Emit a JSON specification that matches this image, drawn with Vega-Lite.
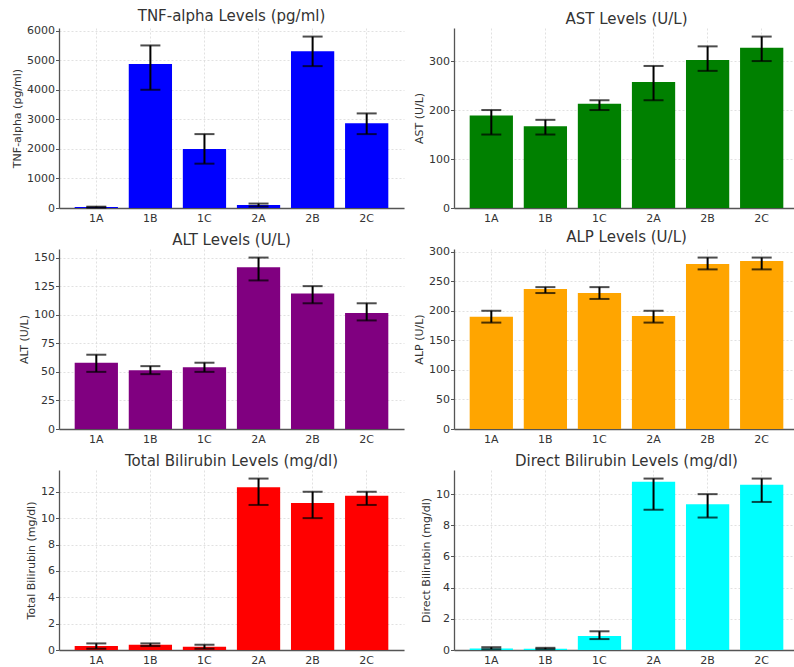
{
  "$schema": "https://vega.github.io/schema/vega-lite/v6.json",
  "padding": {"left": 11, "top": 8, "right": 0, "bottom": 0},
  "background": "white",
  "config": {
    "font": "DejaVu Sans",
    "view": {"stroke": null},
    "axis": {
      "labelFont": "DejaVu Sans", "labelFontSize": 11, "labelColor": "#333333",
      "titleFont": "DejaVu Sans", "titleFontSize": 11, "titleColor": "#333333", "titleFontWeight": "normal",
      "domainColor": "#555555", "domainWidth": 1.3,
      "tickColor": "#555555", "tickSize": 3.5, "tickWidth": 1,
      "gridColor": "#d9d9d9", "gridDash": [2, 2], "gridWidth": 0.8,
      "labelPadding": 1
    },
    "axisX": {"ticks": false, "labelPadding": 4},
    "title": {"font": "DejaVu Sans", "fontSize": 15, "fontWeight": "normal", "color": "#333333", "offset": 1}
  },
  "datasets": {
    "d": [
      {"m": "TNF", "g": "1A", "v": 30, "lo": 15, "hi": 45},
      {"m": "TNF", "g": "1B", "v": 4870, "lo": 4000, "hi": 5500},
      {"m": "TNF", "g": "1C", "v": 2000, "lo": 1500, "hi": 2500},
      {"m": "TNF", "g": "2A", "v": 100, "lo": 50, "hi": 150},
      {"m": "TNF", "g": "2B", "v": 5300, "lo": 4800, "hi": 5800},
      {"m": "TNF", "g": "2C", "v": 2870, "lo": 2500, "hi": 3200},
      {"m": "AST", "g": "1A", "v": 189, "lo": 150, "hi": 200},
      {"m": "AST", "g": "1B", "v": 167, "lo": 150, "hi": 180},
      {"m": "AST", "g": "1C", "v": 213, "lo": 200, "hi": 220},
      {"m": "AST", "g": "2A", "v": 257, "lo": 220, "hi": 290},
      {"m": "AST", "g": "2B", "v": 302, "lo": 280, "hi": 330},
      {"m": "AST", "g": "2C", "v": 327, "lo": 300, "hi": 350},
      {"m": "ALT", "g": "1A", "v": 58, "lo": 50, "hi": 65},
      {"m": "ALT", "g": "1B", "v": 51.5, "lo": 48, "hi": 55},
      {"m": "ALT", "g": "1C", "v": 54, "lo": 50, "hi": 58},
      {"m": "ALT", "g": "2A", "v": 141.5, "lo": 130, "hi": 150},
      {"m": "ALT", "g": "2B", "v": 118.5, "lo": 110, "hi": 125},
      {"m": "ALT", "g": "2C", "v": 101.5, "lo": 95, "hi": 110},
      {"m": "ALP", "g": "1A", "v": 190, "lo": 180, "hi": 200},
      {"m": "ALP", "g": "1B", "v": 237, "lo": 230, "hi": 240},
      {"m": "ALP", "g": "1C", "v": 230, "lo": 220, "hi": 240},
      {"m": "ALP", "g": "2A", "v": 191, "lo": 180, "hi": 200},
      {"m": "ALP", "g": "2B", "v": 279, "lo": 270, "hi": 290},
      {"m": "ALP", "g": "2C", "v": 284, "lo": 270, "hi": 290},
      {"m": "TB", "g": "1A", "v": 0.3, "lo": 0.1, "hi": 0.5},
      {"m": "TB", "g": "1B", "v": 0.4, "lo": 0.3, "hi": 0.5},
      {"m": "TB", "g": "1C", "v": 0.25, "lo": 0.1, "hi": 0.4},
      {"m": "TB", "g": "2A", "v": 12.35, "lo": 11, "hi": 13},
      {"m": "TB", "g": "2B", "v": 11.15, "lo": 10, "hi": 12},
      {"m": "TB", "g": "2C", "v": 11.7, "lo": 11, "hi": 12},
      {"m": "DB", "g": "1A", "v": 0.1, "lo": 0.05, "hi": 0.18},
      {"m": "DB", "g": "1B", "v": 0.08, "lo": 0.05, "hi": 0.14},
      {"m": "DB", "g": "1C", "v": 0.9, "lo": 0.7, "hi": 1.2},
      {"m": "DB", "g": "2A", "v": 10.8, "lo": 9, "hi": 11},
      {"m": "DB", "g": "2B", "v": 9.35, "lo": 8.5, "hi": 10},
      {"m": "DB", "g": "2C", "v": 10.6, "lo": 9.5, "hi": 11}
    ]
  },
  "data": {"name": "d"},
  "columns": 2,
  "bounds": "flush",
  "spacing": {"row": 41, "column": 50},
  "concat": [
    {
      "width": 345, "height": 180,
      "title": "TNF-alpha Levels (pg/ml)",
      "transform": [{"filter": "datum.m == 'TNF'"}],
      "encoding": {"x": {"field": "g", "type": "nominal", "sort": null, "scale": {"paddingInner": 0.2, "paddingOuter": 0.29}, "axis": {"title": null, "labelAngle": 0, "bandPosition": 0.5, "grid": true}}},
      "layer": [
        {"mark": {"type": "bar", "color": "#0000ff"}, "encoding": {"y": {"field": "v", "type": "quantitative", "title": "TNF-alpha (pg/ml)", "scale": {"domain": [0, 6090], "nice": false}, "axis": {"values": [0, 1000, 2000, 3000, 4000, 5000, 6000], "format": "d", "grid": true}}}},
        {"mark": {"type": "rule", "color": "black", "strokeWidth": 2}, "encoding": {"y": {"field": "lo", "type": "quantitative", "title": "TNF-alpha (pg/ml)", "scale": {"domain": [0, 6090], "nice": false}, "axis": {"values": [0, 1000, 2000, 3000, 4000, 5000, 6000], "format": "d", "grid": true}}, "y2": {"field": "hi"}}},
        {"mark": {"type": "tick", "color": "black", "thickness": 2, "size": 20}, "encoding": {"y": {"field": "lo", "type": "quantitative", "title": "TNF-alpha (pg/ml)", "scale": {"domain": [0, 6090], "nice": false}, "axis": {"values": [0, 1000, 2000, 3000, 4000, 5000, 6000], "format": "d", "grid": true}}}},
        {"mark": {"type": "tick", "color": "black", "thickness": 2, "size": 20}, "encoding": {"y": {"field": "hi", "type": "quantitative", "title": "TNF-alpha (pg/ml)", "scale": {"domain": [0, 6090], "nice": false}, "axis": {"values": [0, 1000, 2000, 3000, 4000, 5000, 6000], "format": "d", "grid": true}}}}
      ]
    },
    {
      "width": 345, "height": 180,
      "title": "AST Levels (U/L)",
      "transform": [{"filter": "datum.m == 'AST'"}],
      "encoding": {"x": {"field": "g", "type": "nominal", "sort": null, "scale": {"paddingInner": 0.2, "paddingOuter": 0.29}, "axis": {"title": null, "labelAngle": 0, "bandPosition": 0.5, "grid": true}}},
      "layer": [
        {"mark": {"type": "bar", "color": "#008000"}, "encoding": {"y": {"field": "v", "type": "quantitative", "title": "AST (U/L)", "scale": {"domain": [0, 367.5], "nice": false}, "axis": {"values": [0, 100, 200, 300], "grid": true}}}},
        {"mark": {"type": "rule", "color": "black", "strokeWidth": 2}, "encoding": {"y": {"field": "lo", "type": "quantitative", "title": "AST (U/L)", "scale": {"domain": [0, 367.5], "nice": false}, "axis": {"values": [0, 100, 200, 300], "grid": true}}, "y2": {"field": "hi"}}},
        {"mark": {"type": "tick", "color": "black", "thickness": 2, "size": 20}, "encoding": {"y": {"field": "lo", "type": "quantitative", "title": "AST (U/L)", "scale": {"domain": [0, 367.5], "nice": false}, "axis": {"values": [0, 100, 200, 300], "grid": true}}}},
        {"mark": {"type": "tick", "color": "black", "thickness": 2, "size": 20}, "encoding": {"y": {"field": "hi", "type": "quantitative", "title": "AST (U/L)", "scale": {"domain": [0, 367.5], "nice": false}, "axis": {"values": [0, 100, 200, 300], "grid": true}}}}
      ]
    },
    {
      "width": 345, "height": 180,
      "title": "ALT Levels (U/L)",
      "transform": [{"filter": "datum.m == 'ALT'"}],
      "encoding": {"x": {"field": "g", "type": "nominal", "sort": null, "scale": {"paddingInner": 0.2, "paddingOuter": 0.29}, "axis": {"title": null, "labelAngle": 0, "bandPosition": 0.5, "grid": true}}},
      "layer": [
        {"mark": {"type": "bar", "color": "#800080"}, "encoding": {"y": {"field": "v", "type": "quantitative", "title": "ALT (U/L)", "scale": {"domain": [0, 157.5], "nice": false}, "axis": {"values": [0, 25, 50, 75, 100, 125, 150], "grid": true}}}},
        {"mark": {"type": "rule", "color": "black", "strokeWidth": 2}, "encoding": {"y": {"field": "lo", "type": "quantitative", "title": "ALT (U/L)", "scale": {"domain": [0, 157.5], "nice": false}, "axis": {"values": [0, 25, 50, 75, 100, 125, 150], "grid": true}}, "y2": {"field": "hi"}}},
        {"mark": {"type": "tick", "color": "black", "thickness": 2, "size": 20}, "encoding": {"y": {"field": "lo", "type": "quantitative", "title": "ALT (U/L)", "scale": {"domain": [0, 157.5], "nice": false}, "axis": {"values": [0, 25, 50, 75, 100, 125, 150], "grid": true}}}},
        {"mark": {"type": "tick", "color": "black", "thickness": 2, "size": 20}, "encoding": {"y": {"field": "hi", "type": "quantitative", "title": "ALT (U/L)", "scale": {"domain": [0, 157.5], "nice": false}, "axis": {"values": [0, 25, 50, 75, 100, 125, 150], "grid": true}}}}
      ]
    },
    {
      "width": 345, "height": 180,
      "title": "ALP Levels (U/L)",
      "transform": [{"filter": "datum.m == 'ALP'"}],
      "encoding": {"x": {"field": "g", "type": "nominal", "sort": null, "scale": {"paddingInner": 0.2, "paddingOuter": 0.29}, "axis": {"title": null, "labelAngle": 0, "bandPosition": 0.5, "grid": true}}},
      "layer": [
        {"mark": {"type": "bar", "color": "#ffa500"}, "encoding": {"y": {"field": "v", "type": "quantitative", "title": "ALP (U/L)", "scale": {"domain": [0, 304.5], "nice": false}, "axis": {"values": [0, 50, 100, 150, 200, 250, 300], "grid": true}}}},
        {"mark": {"type": "rule", "color": "black", "strokeWidth": 2}, "encoding": {"y": {"field": "lo", "type": "quantitative", "title": "ALP (U/L)", "scale": {"domain": [0, 304.5], "nice": false}, "axis": {"values": [0, 50, 100, 150, 200, 250, 300], "grid": true}}, "y2": {"field": "hi"}}},
        {"mark": {"type": "tick", "color": "black", "thickness": 2, "size": 20}, "encoding": {"y": {"field": "lo", "type": "quantitative", "title": "ALP (U/L)", "scale": {"domain": [0, 304.5], "nice": false}, "axis": {"values": [0, 50, 100, 150, 200, 250, 300], "grid": true}}}},
        {"mark": {"type": "tick", "color": "black", "thickness": 2, "size": 20}, "encoding": {"y": {"field": "hi", "type": "quantitative", "title": "ALP (U/L)", "scale": {"domain": [0, 304.5], "nice": false}, "axis": {"values": [0, 50, 100, 150, 200, 250, 300], "grid": true}}}}
      ]
    },
    {
      "width": 345, "height": 180,
      "title": "Total Bilirubin Levels (mg/dl)",
      "transform": [{"filter": "datum.m == 'TB'"}],
      "encoding": {"x": {"field": "g", "type": "nominal", "sort": null, "scale": {"paddingInner": 0.2, "paddingOuter": 0.29}, "axis": {"title": null, "labelAngle": 0, "bandPosition": 0.5, "grid": true}}},
      "layer": [
        {"mark": {"type": "bar", "color": "#ff0000"}, "encoding": {"y": {"field": "v", "type": "quantitative", "title": "Total Bilirubin (mg/dl)", "scale": {"domain": [0, 13.65], "nice": false}, "axis": {"values": [0, 2, 4, 6, 8, 10, 12], "grid": true}}}},
        {"mark": {"type": "rule", "color": "black", "strokeWidth": 2}, "encoding": {"y": {"field": "lo", "type": "quantitative", "title": "Total Bilirubin (mg/dl)", "scale": {"domain": [0, 13.65], "nice": false}, "axis": {"values": [0, 2, 4, 6, 8, 10, 12], "grid": true}}, "y2": {"field": "hi"}}},
        {"mark": {"type": "tick", "color": "black", "thickness": 2, "size": 20}, "encoding": {"y": {"field": "lo", "type": "quantitative", "title": "Total Bilirubin (mg/dl)", "scale": {"domain": [0, 13.65], "nice": false}, "axis": {"values": [0, 2, 4, 6, 8, 10, 12], "grid": true}}}},
        {"mark": {"type": "tick", "color": "black", "thickness": 2, "size": 20}, "encoding": {"y": {"field": "hi", "type": "quantitative", "title": "Total Bilirubin (mg/dl)", "scale": {"domain": [0, 13.65], "nice": false}, "axis": {"values": [0, 2, 4, 6, 8, 10, 12], "grid": true}}}}
      ]
    },
    {
      "width": 345, "height": 180,
      "title": "Direct Bilirubin Levels (mg/dl)",
      "transform": [{"filter": "datum.m == 'DB'"}],
      "encoding": {"x": {"field": "g", "type": "nominal", "sort": null, "scale": {"paddingInner": 0.2, "paddingOuter": 0.29}, "axis": {"title": null, "labelAngle": 0, "bandPosition": 0.5, "grid": true}}},
      "layer": [
        {"mark": {"type": "bar", "color": "#00ffff"}, "encoding": {"y": {"field": "v", "type": "quantitative", "title": "Direct Bilirubin (mg/dl)", "scale": {"domain": [0, 11.55], "nice": false}, "axis": {"values": [0, 2, 4, 6, 8, 10], "grid": true}}}},
        {"mark": {"type": "rule", "color": "black", "strokeWidth": 2}, "encoding": {"y": {"field": "lo", "type": "quantitative", "title": "Direct Bilirubin (mg/dl)", "scale": {"domain": [0, 11.55], "nice": false}, "axis": {"values": [0, 2, 4, 6, 8, 10], "grid": true}}, "y2": {"field": "hi"}}},
        {"mark": {"type": "tick", "color": "black", "thickness": 2, "size": 20}, "encoding": {"y": {"field": "lo", "type": "quantitative", "title": "Direct Bilirubin (mg/dl)", "scale": {"domain": [0, 11.55], "nice": false}, "axis": {"values": [0, 2, 4, 6, 8, 10], "grid": true}}}},
        {"mark": {"type": "tick", "color": "black", "thickness": 2, "size": 20}, "encoding": {"y": {"field": "hi", "type": "quantitative", "title": "Direct Bilirubin (mg/dl)", "scale": {"domain": [0, 11.55], "nice": false}, "axis": {"values": [0, 2, 4, 6, 8, 10], "grid": true}}}}
      ]
    }
  ]
}
